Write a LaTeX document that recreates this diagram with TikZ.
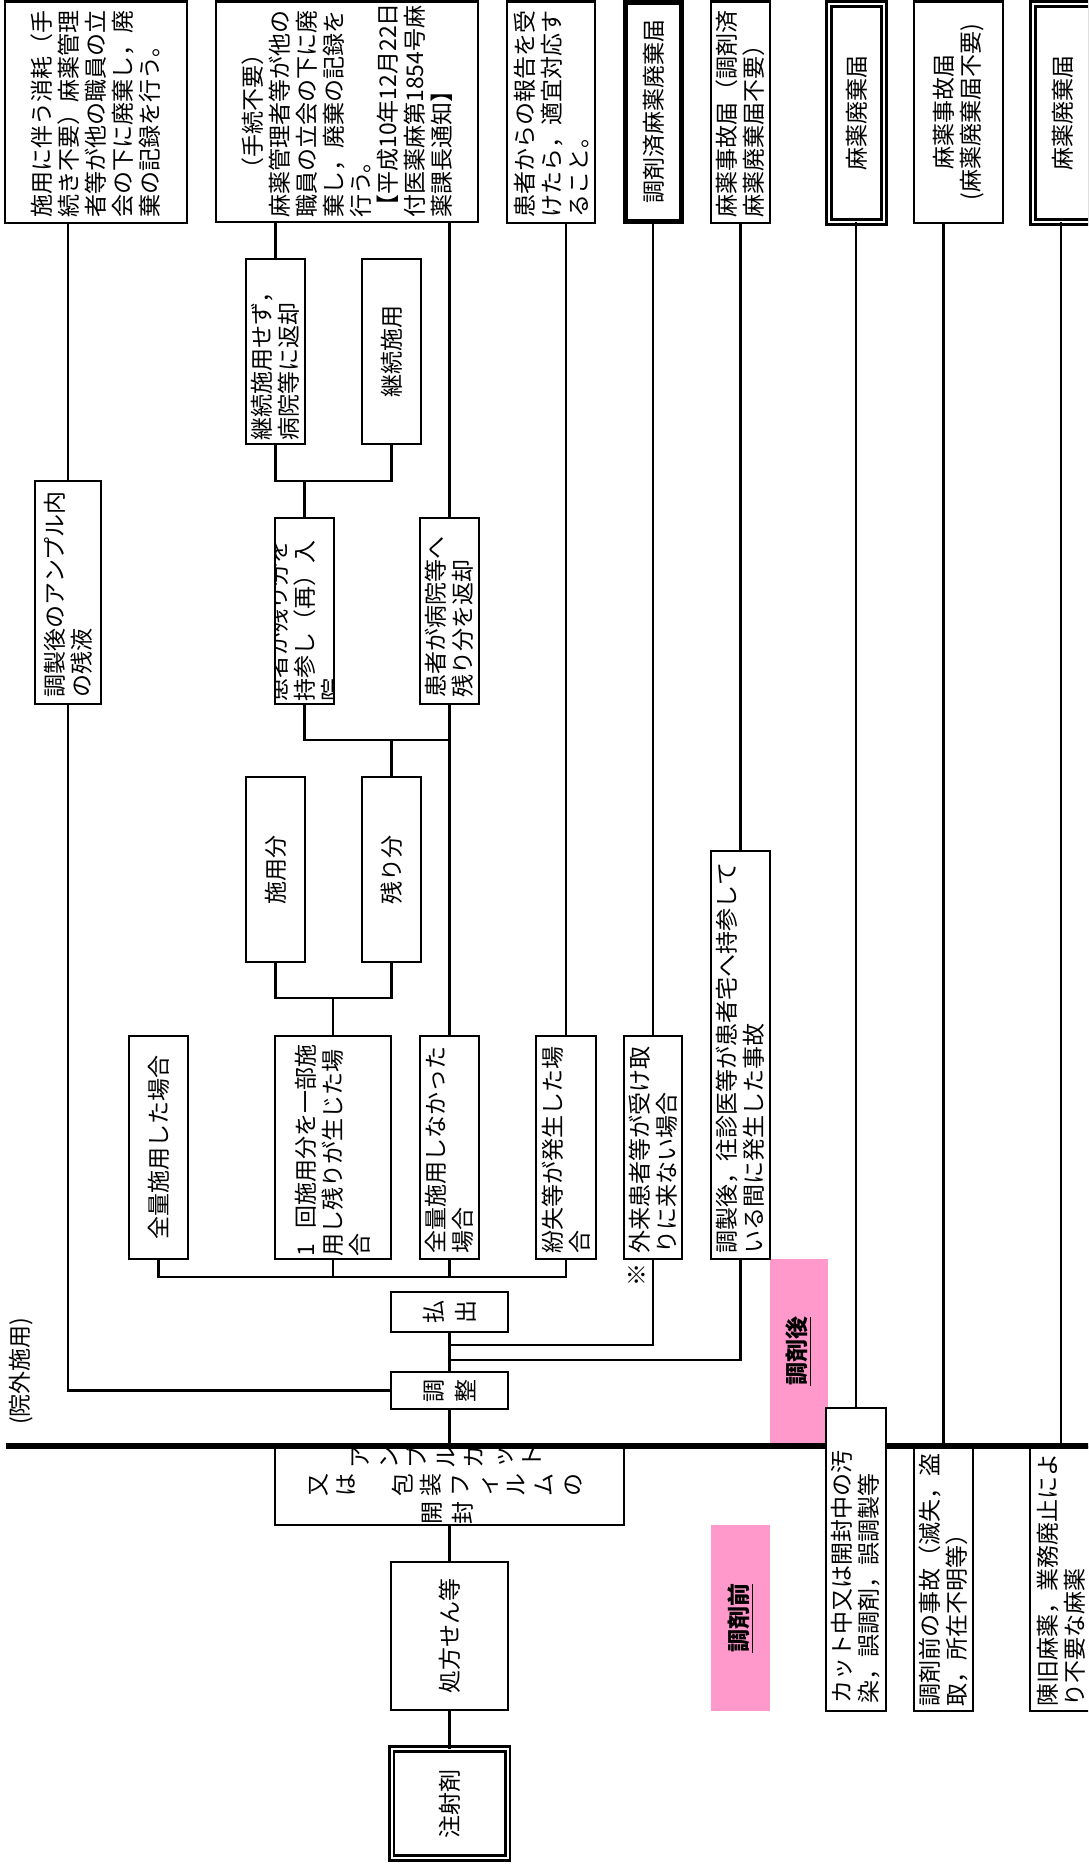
\documentclass[tikz,border=0pt]{standalone}
\usepackage{fontspec}
\setmainfont{Noto Sans CJK JP}
\usetikzlibrary{fit}
\newdimen\mypx \mypx=0.5pt
\newcommand\bodyfont{\fontsize{11.5pt}{13.5pt}\selectfont}
\newcommand\txl[2]{\parbox{#1\mypx}{\bodyfont\raggedright #2}}
\newcommand\txc[2]{\parbox{#1\mypx}{\bodyfont\centering #2}}
\newcommand\txw[2]{\parbox{#1\mypx}{\fontsize{11.5pt}{16pt}\selectfont\centering #2}}
\definecolor{pinkc}{HTML}{FF99CC}
\begin{document}
\begin{tikzpicture}[x=0.5pt,y=-0.5pt,
  bx/.style={draw, line width=1.35pt, fill=white, inner sep=0pt, outer sep=0pt},
  thickbx/.style={bx, line width=2.5pt},
  dblbx/.style={draw, line width=1.4pt, double=white, double distance=1pt, fill=white, inner sep=0pt, outer sep=0pt},
  ln/.style={line width=1.35pt},
  pinkbx/.style={fill=pinkc, inner sep=0pt},
  plain/.style={inner sep=0pt},
  tx/.style={inner sep=0pt, rotate=90},
  ch/.style={inner sep=0pt, rotate=90, text height=10pt, text depth=1.5pt, font=\bodyfont}]
\clip (0,0) rectangle (1088,1870);
\fill[white] (0,0) rectangle (1088,1870);

% pink phase labels
\node[pinkbx, fit={(770,1259)(828,1443)}] (pa) {};
\node[tx] (pat) at (pa.center) {\bodyfont\bfseries\underline{調剤後}};
\node[pinkbx, fit={(711,1525)(770,1711)}] (pb) {};
\node[tx] (pbt) at (pb.center) {\bodyfont\bfseries\underline{調剤前}};

% top row
\node[bx, fit={(5,1.3)(187,223)}] (A) {};
\node[tx] (At) at (A.center) {\txl{210}{施用に伴う消耗（手\\続き不要）麻薬管理\\者等が他の職員の立\\会の下に廃棄し，廃\\棄の記録を行う。}};
\node[bx, fit={(216,1.3)(478,222)}] (B) {};
\node[tx] (Bt) at (B.center) {\parbox{212\mypx}{\bodyfont\centering （手続不要）\par\raggedright 麻薬管理者等が他の\\職員の立会の下に廃\\棄し，廃棄の記録を\\行う。\\【平成10年12月22日\\付医薬麻第1854号麻\\薬課長通知】}};
\node[bx, fit={(507,1.3)(595,223)}] (C) {};
\node[tx] (Ct) at (C.center) {\txl{210}{患者からの報告を受\\けたら，適宜対応す\\ること。}};
\node[thickbx, fit={(625.5,2.5)(681.5,221)}] (D) {};
\node[tx] (Dt) at (D.center) {\txc{200}{調剤済麻薬廃棄届}};
\node[bx, fit={(711,1.3)(770,223)}] (E) {};
\node[tx] (Et) at (E.center) {\txl{210}{麻薬事故届（調剤済\\麻薬廃棄届不要）}};
\node[dblbx, fit={(828.8,3.8)(884.2,221.8)}] (F) {};
\node[tx] (Ft) at (F.center) {\txc{200}{麻薬廃棄届}};
\node[bx, fit={(914,1.3)(1003,223)}] (G) {};
\node[tx] (Gt) at (G.center) {\txc{210}{麻薬事故届\\(麻薬廃棄届不要)}};
\node[dblbx, fit={(1032.8,3.8)(1092,221.8)}] (H) {};
\node[tx] (Ht) at (H.center) {\txc{200}{麻薬廃棄届}};

% middle
\node[bx, fit={(246,259)(305,444)}] (ks) {};
\node[tx] (kst) at (ks.center) {\txl{177}{継続施用せず，\\病院等に返却}};
\node[bx, fit={(362,259)(421,444)}] (ky) {};
\node[tx] (kyt) at (ky.center) {\txc{170}{継続施用}};
\node[bx, fit={(35,481)(101,704)}] (zan) {};
\node[tx] (zant) at (zan.center) {\txl{209}{調製後のアンプル内\\の残液}};
\node[bx, fit={(275,518)(334,704)}] (pr) {};
\begin{scope}
\clip (276.5,519.5) rectangle (332.5,702.5);
\node[tx] (prt) at (pr.center) {\txl{180}{患者が残り分を\\持参し（再）入\\院}};
\end{scope}
\node[bx, fit={(420,518)(479,704)}] (hk) {};
\node[tx] (hkt) at (hk.center) {\txl{172}{患者が病院等へ\\残り分を返却}};
\node[bx, fit={(246,777)(305,962)}] (sy) {};
\node[tx] (syt) at (sy.center) {\txc{170}{施用分}};
\node[bx, fit={(362,777)(421,962)}] (nk) {};
\node[tx] (nkt) at (nk.center) {\txc{170}{残り分}};

\node[bx, fit={(129,1036)(188,1259)}] (z1) {};
\node[tx] (z1t) at (z1.center) {\txc{210}{全量施用した場合}};
\node[bx, fit={(275,1036)(391,1259)}] (ichi) {};
\node[tx] (ichit) at (ichi.center) {\txl{217}{1\hspace{0.65em}回施用分を一部施\\用し残りが生じた場\\合}};
\node[bx, fit={(420,1036)(479,1259)}] (z2) {};
\node[tx] (z2t) at (z2.center) {\txl{211}{全量施用しなかった\\場合}};
\node[bx, fit={(536,1036)(596,1259)}] (fn) {};
\node[tx] (fnt) at (fn.center) {\txl{211}{紛失等が発生した場\\合}};
\node[bx, fit={(624,1036)(682,1259)}] (gr) {};
\node[tx] (grt) at (gr.center) {\txl{211}{外来患者等が受け取\\りに来ない場合}};
\node[bx, fit={(711,851)(770,1259)}] (os) {};
\node[tx] (ost) at (os.center) {\txl{396}{調製後，往診医等が患者宅へ持参して\\いる間に発生した事故}};

\node[bx, fit={(391,1292)(508,1332)}] (hd) {};
\node[tx] (hdt) at (hd.center) {\txw{26}{払\\出}};
\node[bx, fit={(391,1372)(508,1409)}] (cs) {};
\node[tx] (cst) at (cs.center) {\txw{26}{調\\整}};

\node[tx] (inai) at (21,1371) {\bodyfont (院外施用)};
\node[tx] (kome) at (637,1275) {\bodyfont ※};

% ampoule box
\node[bx, fit={(275,1446)(624,1525)}] (amp) {};
\begin{scope}
\clip (276.5,1448.5) rectangle (622.5,1523.5);
\foreach \c [count=\i] in {ア,ン,プ,ル,カ,ッ,ト}
  \node[ch] (ra\i) at ({360+28.6*(\i-1)},1457) {\c};
\foreach \c [count=\i] in {又,は,{},包,装,フ,ィ,ル,ム,の}
  \node[ch] (rb\i) at ({318+28.3*(\i-1)},1485) {\c};
\foreach \c [count=\i] in {開,封}
  \node[ch] (rc\i) at ({432+31*(\i-1)},1513) {\c};
\end{scope}

\node[bx, fit={(391,1562)(508,1710)}] (sh) {};
\node[tx] (sht) at (sh.center) {\txc{130}{処方せん等}};
\node[dblbx, fit={(391.5,1748.8)(507.5,1858.2)}] (cy) {};
\node[tx] (cyt) at (cy.center) {\txc{90}{注射剤}};
\node[bx, fit={(914,1447)(973,1711)}] (jk) {};
\node[tx] (jkt) at (jk.center) {\txl{254}{調剤前の事故（滅失，盗\\取，所在不明等）}};
\node[bx, fit={(1030,1447)(1092,1711)}] (cn) {};
\node[tx] (cnt) at (cn.center) {\txl{254}{陳旧麻薬，業務廃止によ\\り不要な麻薬}};

% separator
\coordinate (sepL) at (6,1446);
\coordinate (sepR) at (1100,1446);
\draw[line width=2.85pt] (sepL) -- (sepR);

\node[bx, fit={(826,1408)(886,1711)}] (ct) {};
\node[tx] (ctt) at (ct.center) {\txl{287}{カット中又は開封中の汚\\染，誤調剤，誤調製等}};

% junction coordinates
\coordinate (j1) at (304.5,481);
\coordinate (j2) at (304.5,740);
\coordinate (j3) at (333,998);
\coordinate (j4) at (333,1277);
\coordinate (j5) at (449.5,1345);
\coordinate (j6) at (449.5,1360);

% connectors
\draw[ln] (A.south -| zan.north) -- (zan.north);
\draw[ln] (zan.south) |- (cs.west);
\draw[ln] (B.south -| ks.north) -- (ks.north);
\draw[ln] (B.south -| hk.north) -- (hk.north);
\draw[ln] (ks.south) -- (ks.south |- j1) -- (ky.south |- j1) -- (ky.south);
\draw[ln] (pr.north |- j1) -- (pr.north);
\draw[ln] (pr.south) -- (j2) -- (j2 -| hk.south);
\draw[ln] (hk.south) -- (z2.north);
\draw[ln] (nk.north) -- (nk.north |- j2);
\draw[ln] (sy.south) -- (sy.south |- j3) -- (nk.south |- j3) -- (nk.south);
\draw[ln] (j3) -- (ichi.north);
\draw[ln] (C.south -| fn.north) -- (fn.north);
\draw[ln] (D.south -| gr.north) -- (gr.north);
\draw[ln] (E.south -| os.north) -- (os.north);
\draw[ln] (F.south -| ct.north) -- (ct.north);
\draw[ln] (G.south -| jk.north) -- (jk.north);
\draw[ln] (H.south -| cn.north) -- (cn.north);
\draw[ln] (z1.south) -- (z1.south |- j4) -- (fn.south |- j4) -- (fn.south);
\draw[ln] (ichi.south) -- (j4);
\draw[ln] (z2.south) -- (z2.south |- j4);
\draw[ln] (hd.south) -- (cs.north);
\draw[ln] (gr.south) |- (j5);
\draw[ln] (os.south) |- (j6);
\draw[ln] (cs.south) -- (amp.north);
\draw[ln] (amp.south) -- (sh.north);
\draw[ln] (sh.south) -- (cy.north);
\end{tikzpicture}
\end{document}
